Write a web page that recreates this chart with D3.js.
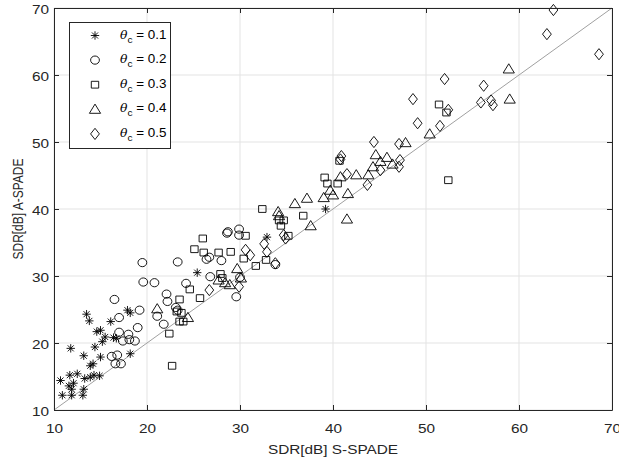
<!DOCTYPE html>
<html>
<head>
<meta charset="utf-8">
<script src="https://cdn.jsdelivr.net/npm/d3@7"></script>
<style>
body { margin: 0; background: #fff; }
text { font-family: "Liberation Sans", Arial, sans-serif; }
</style>
</head>
<body>
<svg width="619" height="461"></svg>
<script>
// values: [S-SPADE, A-SPADE] in dB
var theta01 = [[13.5,24.3],[13.8,23.3],[16.1,23.2],[17.9,24.9],[18.2,24.5],[14.6,21.7],[15.0,21.9],[15.5,20.9],[15.2,20.2],[16.4,20.8],[16.7,20.7],[11.8,19.2],[14.4,19.4],[13.2,18.1],[15.0,17.9],[18.2,18.4],[13.9,16.6],[14.2,16.9],[11.7,15.2],[12.5,15.4],[13.3,14.7],[13.9,14.9],[14.3,15.2],[14.9,15.1],[10.7,14.4],[11.6,13.6],[12.1,14.0],[11.9,13.1],[13.2,13.1],[10.9,12.2],[11.9,12.2],[13.1,12.2],[25.4,30.5],[32.9,35.8],[39.2,40.0]];
var theta02 = [[19.5,32.0],[23.3,32.1],[19.6,29.1],[20.8,29.0],[22.1,27.3],[22.2,26.2],[24.2,28.9],[16.5,26.5],[17.0,23.8],[19.2,24.9],[21.1,24.0],[21.8,22.8],[23.1,25.3],[23.3,24.9],[17.0,21.6],[18.0,21.3],[17.4,20.3],[18.1,20.5],[18.7,20.3],[19.0,22.3],[16.2,18.0],[16.8,18.2],[16.6,16.9],[17.2,16.9],[26.4,32.5],[26.7,32.8],[28.0,32.3],[26.8,29.9],[28.6,36.4],[28.7,36.6],[29.9,37.0],[29.9,36.1],[29.6,26.9],[30.0,29.8],[33.8,31.7]];
var theta03 = [[25.1,34.0],[24.6,28.0],[23.5,26.5],[23.2,24.7],[23.7,24.5],[23.5,23.2],[23.9,23.2],[22.4,21.4],[22.7,16.6],[25.7,26.7],[26.0,35.6],[26.1,33.5],[27.7,33.5],[29.0,33.6],[30.6,36.0],[30.4,32.6],[27.9,30.3],[28.1,29.7],[31.7,31.5],[32.8,32.4],[32.4,40.0],[34.2,38.3],[34.7,38.3],[34.4,37.5],[35.2,36.0],[36.8,39.0],[39.1,44.7],[39.4,43.8],[40.5,43.8],[40.7,47.2],[51.4,55.6],[52.2,54.4],[52.4,44.3]];
var theta04 = [[21.1,25.1],[24.4,23.8],[29.7,31.1],[27.7,29.4],[28.4,29.0],[28.9,28.7],[30.1,29.7],[34.1,39.6],[34.2,39.0],[35.9,40.8],[37.2,41.6],[37.6,37.5],[39.0,41.7],[39.7,42.8],[40.0,42.1],[40.8,44.8],[41.6,42.3],[41.5,38.5],[42.5,45.1],[43.8,45.1],[44.3,46.3],[44.6,48.1],[45.8,47.7],[46.4,46.7],[47.8,49.9],[50.4,51.2],[45.1,47.1],[58.9,60.9],[59.0,56.4]];
var theta05 = [[63.7,69.7],[63.0,66.1],[68.6,63.1],[56.2,58.4],[55.9,55.9],[57.0,56.2],[57.2,55.5],[52.0,59.4],[52.4,54.8],[51.5,52.4],[49.1,52.8],[48.6,56.4],[44.4,50.0],[47.1,49.7],[40.9,47.9],[40.8,47.4],[41.5,45.2],[43.7,43.6],[45.1,45.8],[47.1,46.3],[47.2,47.3],[32.6,34.8],[32.9,33.6],[30.6,33.9],[31.1,33.1],[34.7,36.1],[34.9,35.6],[33.8,31.9],[26.7,27.9],[29.9,28.4]];

var thetaLabels = ['0.1','0.2','0.3','0.4','0.5'];
var xTicks = [10,20,30,40,50,60,70];
var yTicks = [10,20,30,40,50,60,70];
var refLine = [[10,10],[70,70]];

var svg = d3.select('svg');
var axisColor = '#262626';
var stretch = 1.28; // the picture is wider than it is tall, text too

var x = d3.scaleLinear().domain([10,70]).range([54,612]);
var y = d3.scaleLinear().domain([10,70]).range([410,8]);

// marker path makers, centred on 0,0
var markerPath = {
  star: function() {
    var r = 4.2, d = r*0.72;
    return 'M'+(-r)+',0L'+r+',0M0,'+(-r)+'L0,'+r+
      'M'+(-d)+','+(-d)+'L'+d+','+d+'M'+(-d)+','+d+'L'+d+','+(-d);
  },
  circle: function() {
    var rx = 4.4, ry = 4.1;
    return 'M'+(-rx)+',0A'+rx+','+ry+' 0 1,0 '+rx+',0A'+rx+','+ry+' 0 1,0 '+(-rx)+',0Z';
  },
  square: function() {
    var w = 3.7, h = 3.4;
    return 'M'+(-w)+','+(-h)+'H'+w+'V'+h+'H'+(-w)+'Z';
  },
  triangle: function() {
    return 'M0,-5.2L5.6,4L-5.6,4Z';
  },
  diamond: function() {
    return 'M0,-5.6L4.4,0L0,5.6L-4.4,0Z';
  }
};
var seriesShapes = ['star','circle','square','triangle','diamond'];
var allSeries = [theta01, theta02, theta03, theta04, theta05];

// grid
var grid = svg.append('g');
xTicks.forEach(function(t) {
  grid.append('line')
    .attr('x1', x(t)).attr('x2', x(t))
    .attr('y1', y(10)).attr('y2', y(70))
    .style('stroke', '#e3e3e3').style('stroke-width', 1);
});
yTicks.forEach(function(t) {
  grid.append('line')
    .attr('x1', x(10)).attr('x2', x(70))
    .attr('y1', y(t)).attr('y2', y(t))
    .style('stroke', '#e3e3e3').style('stroke-width', 1);
});

// y = x line
svg.append('path')
  .attr('d', d3.line().x(function(d){ return x(d[0]); }).y(function(d){ return y(d[1]); })(refLine))
  .style('fill', 'none').style('stroke', '#a0a0a0').style('stroke-width', 1);

// markers
allSeries.forEach(function(data, i) {
  svg.append('g').selectAll('path')
    .data(data).enter().append('path')
    .attr('d', markerPath[seriesShapes[i]]())
    .attr('transform', function(d){ return 'translate('+x(d[0])+','+y(d[1])+')'; })
    .style('fill', 'none').style('stroke', '#000').style('stroke-width', 0.9);
});

// axes, ticks pointing in
var styleAxis = function(g) {
  g.select('.domain').style('stroke', axisColor);
  g.selectAll('.tick line').style('stroke', axisColor);
  g.selectAll('text').style('fill', axisColor).style('font-size', '12px')
    .style('font-family', '"Liberation Sans", Arial, sans-serif');
};

svg.append('g').attr('transform', 'translate(0,410)')
  .call(d3.axisBottom(x).tickValues(xTicks).tickSizeInner(-5).tickSizeOuter(0).tickFormat(d3.format('d')))
  .call(styleAxis)
  .call(function(g) {
    g.selectAll('text').attr('y', 0).attr('dy', 0)
      .attr('transform', 'translate(0,23) scale('+stretch+',1)');
  });

svg.append('g').attr('transform', 'translate(0,8)')
  .call(d3.axisTop(x).tickValues(xTicks).tickSizeInner(-5).tickSizeOuter(0).tickFormat(''))
  .call(styleAxis);

svg.append('g').attr('transform', 'translate(54,0)')
  .call(d3.axisLeft(y).tickValues(yTicks).tickSizeInner(-5).tickSizeOuter(0).tickFormat(d3.format('d')))
  .call(styleAxis)
  .call(function(g) {
    g.selectAll('text').attr('x', 0).attr('dy', '0.35em')
      .attr('transform', 'translate(-5,1) scale('+stretch+',1)');
  });

svg.append('g').attr('transform', 'translate(612,0)')
  .call(d3.axisRight(y).tickValues(yTicks).tickSizeInner(-5).tickSizeOuter(0).tickFormat(''))
  .call(styleAxis);

// axis titles
svg.append('text')
  .attr('transform', 'translate(333,454) scale('+stretch+',1)')
  .attr('text-anchor', 'middle')
  .style('font-size', '12px').style('fill', axisColor)
  .text('SDR[dB] S-SPADE');

svg.append('text')
  .attr('transform', 'translate(23,209) scale('+stretch+',1) rotate(-90)')
  .attr('text-anchor', 'middle')
  .style('font-size', '12px').style('fill', axisColor)
  .text('SDR[dB] A-SPADE');

// legend
var legend = svg.append('g');
legend.append('rect')
  .attr('x', 69.5).attr('y', 22.5).attr('width', 101).attr('height', 126)
  .style('fill', '#fff').style('stroke', axisColor).style('stroke-width', 1);

thetaLabels.forEach(function(lab, i) {
  var ly = 35.5 + i*24.6;
  legend.append('path')
    .attr('d', markerPath[seriesShapes[i]]())
    .attr('transform', 'translate(95,'+ly+')')
    .style('fill', 'none').style('stroke', '#000').style('stroke-width', 0.9);
  var t = legend.append('text')
    .attr('transform', 'translate(120,'+(ly+3)+') scale(1.12,1)')
    .style('font-size', '12px').style('fill', '#000');
  t.append('tspan').style('font-style', 'italic').style('font-family', '"DejaVu Serif", serif')
    .style('font-size', '11px').text('θ');
  t.append('tspan').attr('dy', 4).style('font-size', '9px').text('c');
  t.append('tspan').attr('dy', -4).text(' = ' + lab);
});
</script>
</body>
</html>
